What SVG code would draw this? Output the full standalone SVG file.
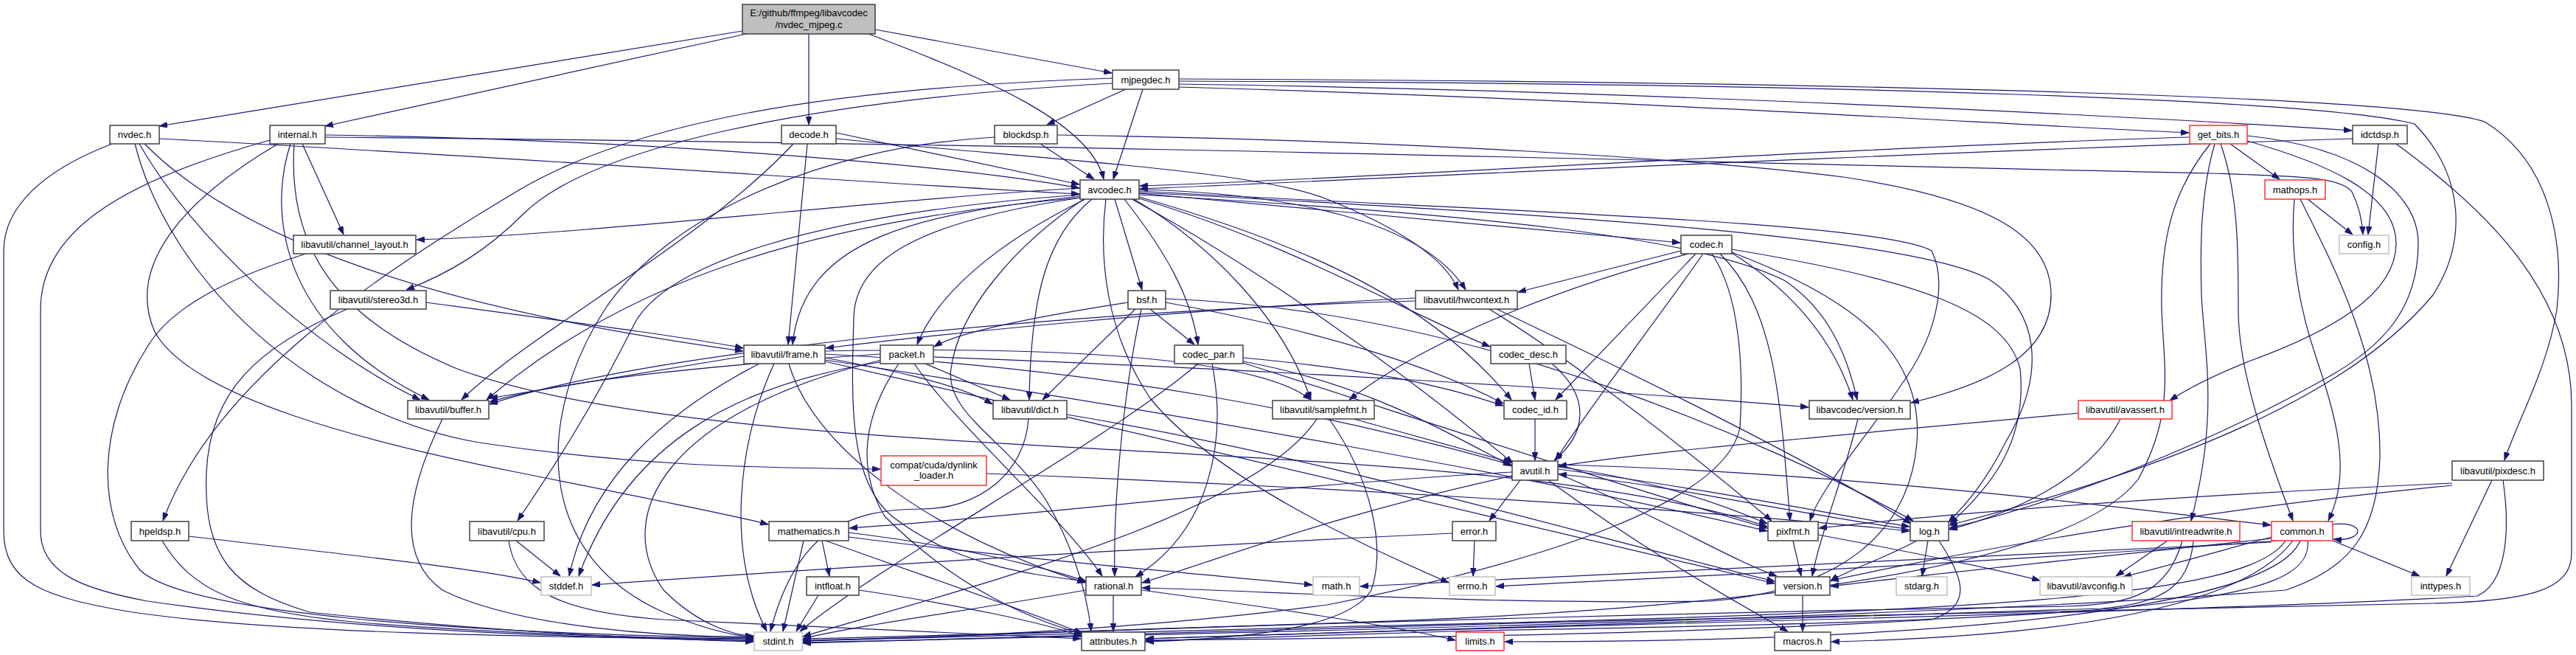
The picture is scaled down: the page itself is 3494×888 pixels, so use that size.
<svg xmlns="http://www.w3.org/2000/svg" width="3494" height="888" viewBox="0 0 3494 888">
<style>
.bg{fill:#ffffff}
.node rect{fill:#ffffff;stroke:#404040;stroke-width:1.5}
.node.red rect{stroke:#ff3030}
.node.grey rect{stroke:#c0c0c0}
.node.root rect{fill:#bfbfbf;stroke:#404040}
.node text{font-family:"Liberation Sans",Arial,sans-serif;font-size:13px;fill:#000000;text-anchor:middle}
.edges path{fill:none;stroke:#191970;stroke-width:1.2;marker-end:url(#ah)}
</style>
<defs>
<marker id="ah" markerWidth="11" markerHeight="8" refX="11" refY="4" orient="auto" markerUnits="userSpaceOnUse" viewBox="0 0 11 8"><path d="M0,0L11,4L0,8z" fill="#191970" stroke="#191970" stroke-width="0.8"/></marker>
</defs>
<rect class="bg" x="0" y="0" width="3494" height="888"/>
<g id="connectors" class="edges">
<path d="M1007,42 L216,171"/>
<path d="M1012,46 L441,171"/>
<path d="M1097,46 L1097,169"/>
<path d="M1178,46 C1350,110 1480,170 1497,243"/>
<path d="M1187,40 L1508,99"/>
<path d="M1527,121 L1420,169"/>
<path d="M1550,121 L1510,243"/>
<path d="M1599,118 C2200,135 2700,168 2969,180"/>
<path d="M1599,114 C2200,122 2900,158 3190,177"/>
<path d="M1599,107 C2300,110 3250,125 3370,165 C3460,220 3478,330 3468,420 C3455,500 3415,570 3397,624"/>
<path d="M1599,110 C2500,113 3150,135 3275,168 C3345,240 3345,330 3300,400 C3200,520 3000,620 2644,712"/>
<path d="M1509,106 C1100,120 850,170 700,260 C500,380 290,520 221,706"/>
<path d="M1509,113 C1100,135 800,200 710,290 C660,340 610,370 551,393"/>
<path d="M216,188 C700,213 1200,250 1464,263"/>
<path d="M152,195 C60,230 5,280 5,340 L5,720 C5,790 60,810 180,830 C400,862 800,864 1022,867"/>
<path d="M189,195 C260,320 420,470 570,542"/>
<path d="M196,195 C330,330 600,420 1008,476"/>
<path d="M183,195 C230,380 420,560 650,600 C850,630 1000,634 1194,636"/>
<path d="M441,183 C900,190 1300,225 1464,255"/>
<path d="M441,186 C1500,195 2500,225 3000,235 C3120,239 3175,240 3190,260 C3200,280 3204,300 3205,318"/>
<path d="M410,195 L466,318"/>
<path d="M366,190 C150,250 55,320 55,420 L55,720 C55,780 120,800 200,815 C500,858 800,864 1022,869"/>
<path d="M377,195 C250,270 170,360 210,450 C260,540 500,600 700,640 C900,680 1000,700 1042,711"/>
<path d="M394,195 C360,300 390,450 582,542"/>
<path d="M399,195 C390,330 450,430 620,500 C1000,640 2000,580 2397,714"/>
<path d="M1076,195 C950,330 720,450 626,542"/>
<path d="M1095,195 L1069,467"/>
<path d="M1134,180 L1464,250"/>
<path d="M1134,188 C1400,215 1700,230 1800,270 C1900,310 1960,350 1978,393"/>
<path d="M1411,195 L1484,243"/>
<path d="M1434,183 C1900,190 2300,215 2500,240 C2700,270 2782,320 2782,400 C2782,480 2700,520 2592,546"/>
<path d="M1349,186 C1100,200 900,300 820,420 C730,560 720,750 900,830 C960,855 1000,862 1022,864"/>
<path d="M2969,186 C2500,200 1800,245 1546,252"/>
<path d="M3025,195 L3092,243"/>
<path d="M3004,195 C2985,260 2984,330 2986,400 C2990,480 3010,560 2972,706"/>
<path d="M3012,195 C3035,260 3036,330 3036,420 C3036,500 3070,600 3110,706"/>
<path d="M2998,195 C2945,260 2930,330 2932,420 C2935,500 2950,560 2900,650 C2800,780 2300,830 1800,845 C1400,858 1200,865 1089,869"/>
<path d="M3048,184 C3200,200 3280,260 3280,330 C3280,420 3230,470 3160,510 C3000,600 2800,680 2644,716"/>
<path d="M3048,191 C3150,220 3250,260 3250,330 C3250,400 3160,450 3050,490 C3000,510 2970,525 2943,543"/>
<path d="M3191,188 C2500,210 1800,246 1546,256"/>
<path d="M3226,195 L3212,318"/>
<path d="M3250,195 C3380,290 3488,400 3488,550 L3488,750 C3488,800 3430,815 3300,818 C2600,830 1800,850 1089,872"/>
<path d="M3112,270 C3105,350 3120,420 3140,480 C3170,570 3190,640 3158,706"/>
<path d="M3120,270 C3160,350 3230,480 3228,620 C3225,720 3190,770 3100,800 C2600,840 1600,860 1089,871"/>
<path d="M3130,270 L3191,318"/>
<path d="M1465,255 C1200,270 800,318 565,325"/>
<path d="M1512,270 L1549,393"/>
<path d="M1545,262 L2279,329"/>
<path d="M1545,257 C1750,262 1930,300 1988,393"/>
<path d="M1466,266 C1250,290 1090,320 1075,467"/>
<path d="M1466,268 C1100,300 850,380 660,542"/>
<path d="M1472,270 C1350,330 1270,400 1244,467"/>
<path d="M1481,270 C1420,320 1398,400 1396,542"/>
<path d="M1525,270 C1580,340 1615,400 1625,467"/>
<path d="M1545,267 C1800,340 1950,420 2050,542"/>
<path d="M1545,269 C1750,330 1900,420 2021,470"/>
<path d="M1538,270 C1640,330 1740,430 1778,542"/>
<path d="M1535,270 C1700,360 1900,500 2052,628"/>
<path d="M1545,261 C2100,290 2600,320 2700,380 C2760,420 2780,500 2720,600 C2690,660 2660,690 2643,708"/>
<path d="M1545,259 C2000,285 2550,300 2620,340 C2640,380 2630,450 2580,520 C2520,610 2470,660 2455,706"/>
<path d="M1500,270 C1490,350 1500,450 1560,540 C1650,650 1850,740 1965,790"/>
<path d="M1466,268 C1250,300 1160,350 1158,430 C1155,540 1150,650 1210,700 C1300,770 1410,780 1473,788"/>
<path d="M1470,270 C1380,330 1300,420 1290,500 C1280,560 1370,600 1420,680 C1460,750 1475,810 1480,856"/>
<path d="M1466,264 C1100,290 900,360 860,440 C800,560 740,650 702,706"/>
<path d="M1545,264 C2000,290 2300,320 2420,380 C2480,420 2505,480 2519,542"/>
<path d="M1530,410 C1400,430 1300,450 1267,470"/>
<path d="M1540,419 L1414,542"/>
<path d="M1560,419 L1620,467"/>
<path d="M1581,410 C1800,450 1950,500 2039,547"/>
<path d="M1581,405 C2000,420 2400,600 2595,706"/>
<path d="M1548,419 C1520,550 1510,700 1512,781"/>
<path d="M2280,340 L2059,396"/>
<path d="M2290,344 C2150,380 1950,450 1830,542"/>
<path d="M2300,344 L2110,542"/>
<path d="M2310,344 C2250,430 2150,560 2110,624"/>
<path d="M2322,344 C2360,400 2365,500 2360,580 C2340,680 2100,760 1800,820 C1500,860 1200,866 1089,868"/>
<path d="M2333,344 C2410,420 2415,550 2428,706"/>
<path d="M2349,343 C2440,400 2490,470 2513,542"/>
<path d="M2349,342 C2500,400 2610,470 2600,600 C2590,720 2500,800 2320,815 C2000,820 1700,800 1549,797"/>
<path d="M2349,338 C2600,380 2720,420 2740,500 C2750,600 2700,660 2645,710"/>
<path d="M2074,493 L2082,542"/>
<path d="M2105,493 C2160,540 2150,590 2108,624"/>
<path d="M2082,568 L2082,624"/>
<path d="M1625,493 C1500,600 1200,760 1085,856"/>
<path d="M1644,493 C1665,600 1640,720 1540,782"/>
<path d="M1686,490 C1850,520 1950,580 2051,632"/>
<path d="M1686,492 C1900,560 2200,660 2397,716"/>
<path d="M1686,485 C1850,500 1950,520 2039,550"/>
<path d="M1255,493 L1370,542"/>
<path d="M1266,484 C1700,500 2200,530 2453,552"/>
<path d="M1240,493 C1300,580 1440,700 1495,781"/>
<path d="M1219,493 C1160,580 1170,650 1200,700 C1300,800 1400,840 1469,860"/>
<path d="M1194,480 C900,500 750,520 664,545"/>
<path d="M1200,490 C1000,520 850,600 785,781"/>
<path d="M1196,488 C900,560 830,700 900,800 C950,850 1000,862 1022,862"/>
<path d="M1009,483 L664,540"/>
<path d="M1119,485 C1200,500 1300,520 1346,548"/>
<path d="M1030,493 C900,560 800,650 772,781"/>
<path d="M1050,493 C1000,600 985,750 1040,856"/>
<path d="M1070,493 C1100,600 1250,720 1472,790"/>
<path d="M1119,476 C1400,470 1700,480 1778,542"/>
<path d="M1119,480 C1500,500 1800,560 2050,630"/>
<path d="M1119,488 C1600,560 2100,650 2397,720"/>
<path d="M1119,490 C1600,600 2200,740 2407,791"/>
<path d="M1920,408 C1500,420 900,470 664,548"/>
<path d="M1920,404 C1600,420 1300,450 1120,472"/>
<path d="M2030,419 C2200,500 2450,620 2592,710"/>
<path d="M2020,419 C2150,500 2300,620 2403,706"/>
<path d="M578,410 C800,440 950,460 1008,472"/>
<path d="M471,419 C350,470 285,530 280,640 C275,760 320,800 420,830 C700,860 900,866 1022,870"/>
<path d="M415,344 C300,380 230,420 200,470 C130,580 130,700 190,773 C250,830 600,858 1022,865"/>
<path d="M600,568 C560,650 530,750 600,800 C700,850 900,864 1022,863"/>
<path d="M1447,562 C1800,620 2200,740 2407,788"/>
<path d="M1395,568 C1390,640 1330,690 1250,690 C1150,690 1080,720 1045,856"/>
<path d="M1836,568 L2050,627"/>
<path d="M1786,568 C1700,700 1300,800 1089,863"/>
<path d="M1803,568 C1860,650 1880,740 1860,800 C1830,850 1700,865 1554,870"/>
<path d="M2520,568 C2500,650 2470,720 2458,781"/>
<path d="M2819,560 C2500,590 2250,610 2114,632"/>
<path d="M2876,568 C2840,640 2750,690 2644,718"/>
<path d="M1338,642 C1800,660 2300,690 2590,720"/>
<path d="M2062,651 L2020,706"/>
<path d="M2051,640 C1700,660 1400,700 1152,716"/>
<path d="M2051,645 C1800,700 1650,760 1549,790"/>
<path d="M2113,642 C2250,700 2350,760 2410,781"/>
<path d="M2100,651 C2250,760 2380,830 2425,856"/>
<path d="M2113,636 C2300,660 2500,700 2590,714"/>
<path d="M2113,633 C2250,650 2350,690 2397,710"/>
<path d="M2113,630 C2500,640 2900,690 3080,712"/>
<path d="M2615,733 L2607,781"/>
<path d="M2600,733 C2550,760 2500,775 2483,788"/>
<path d="M2591,718 C2400,690 2250,655 2114,643"/>
<path d="M2630,733 C2660,780 2680,820 2620,840 C2300,860 1800,866 1554,868"/>
<path d="M2432,733 L2443,781"/>
<path d="M2466,725 C2600,750 2700,770 2767,787"/>
<path d="M2445,807 L2445,856"/>
<path d="M1115,733 L1125,781"/>
<path d="M1090,733 L1062,856"/>
<path d="M1151,728 C1400,760 1650,780 1780,793"/>
<path d="M1151,722 C1300,740 1420,770 1473,788"/>
<path d="M1120,733 C1250,780 1400,830 1468,859"/>
<path d="M1110,807 L1080,856"/>
<path d="M1165,800 C1300,820 1420,845 1467,863"/>
<path d="M1510,807 L1510,856"/>
<path d="M1473,800 C1300,830 1150,850 1089,866"/>
<path d="M1548,800 C1700,820 1900,850 1974,868"/>
<path d="M2000,733 L1998,781"/>
<path d="M1970,723 C1600,740 1200,765 803,793"/>
<path d="M700,733 L760,781"/>
<path d="M690,733 C700,800 760,830 900,840 C1200,855 1350,860 1466,866"/>
<path d="M256,727 C450,750 650,770 733,790"/>
<path d="M220,733 C260,800 320,830 500,845 C700,860 900,866 1022,866"/>
<path d="M2940,733 L2870,781"/>
<path d="M2960,733 C2940,800 2900,820 2800,822 C2000,835 1400,860 1089,866"/>
<path d="M2975,733 C2970,790 2940,818 2850,825 C2200,845 1700,860 1554,866"/>
<path d="M3164,711 C3185,708 3198,714 3198,720 C3198,727 3185,733 3165,731"/>
<path d="M3164,733 L3282,781"/>
<path d="M3081,728 C3000,750 2930,770 2880,782"/>
<path d="M3081,730 C2800,760 2600,780 2483,795"/>
<path d="M3081,735 C2600,760 2100,780 1845,795"/>
<path d="M3090,733 C2600,770 2200,785 2029,795"/>
<path d="M3110,733 C3060,800 2900,860 2484,870"/>
<path d="M3120,733 C3080,830 2600,870 2041,870"/>
<path d="M3100,733 C3050,810 2700,830 1800,850 C1400,860 1200,866 1089,869"/>
<path d="M3130,733 C3140,820 2900,840 2000,855 C1800,860 1650,866 1554,869"/>
<path d="M3380,651 L3318,781"/>
<path d="M3326,655 C3000,670 2700,690 2467,716"/>
<path d="M3326,658 C3000,690 2700,740 2483,787"/>
<path d="M3395,651 C3405,720 3400,790 3360,808 C3000,830 2000,850 1554,866"/>
</g>
<g id="n_root" class="node root"><rect x="1007" y="6" width="180" height="40"/><text x="1097" y="22">E:/github/ffmpeg/libavcodec</text><text x="1097" y="38">/nvdec_mjpeg.c</text></g>
<g id="n_mjpegdec" class="node"><rect x="1509" y="95" width="90" height="26"/><text x="1554" y="112.5">mjpegdec.h</text></g>
<g id="n_nvdec" class="node"><rect x="149" y="170" width="67" height="25"/><text x="182.5" y="187">nvdec.h</text></g>
<g id="n_internal" class="node"><rect x="366" y="170" width="75" height="25"/><text x="403.5" y="187">internal.h</text></g>
<g id="n_decode" class="node"><rect x="1060" y="170" width="74" height="25"/><text x="1097" y="187">decode.h</text></g>
<g id="n_blockdsp" class="node"><rect x="1349" y="170" width="85" height="25"/><text x="1391.5" y="187">blockdsp.h</text></g>
<g id="n_get_bits" class="node red"><rect x="2970" y="170" width="78" height="25"/><text x="3009" y="187">get_bits.h</text></g>
<g id="n_idctdsp" class="node"><rect x="3191" y="170" width="74" height="25"/><text x="3228" y="187">idctdsp.h</text></g>
<g id="n_avcodec" class="node"><rect x="1465" y="244" width="80" height="26"/><text x="1505" y="261.5">avcodec.h</text></g>
<g id="n_mathops" class="node red"><rect x="3072" y="244" width="82" height="26"/><text x="3113" y="261.5">mathops.h</text></g>
<g id="n_channel_layout" class="node"><rect x="398" y="319" width="166" height="25"/><text x="481" y="336">libavutil/channel_layout.h</text></g>
<g id="n_codec" class="node"><rect x="2280" y="319" width="69" height="25"/><text x="2314.5" y="336">codec.h</text></g>
<g id="n_config" class="node grey"><rect x="3173" y="319" width="67" height="25"/><text x="3206.5" y="336">config.h</text></g>
<g id="n_stereo3d" class="node"><rect x="448" y="394" width="130" height="25"/><text x="513" y="411">libavutil/stereo3d.h</text></g>
<g id="n_bsf" class="node"><rect x="1530" y="394" width="51" height="25"/><text x="1555.5" y="411">bsf.h</text></g>
<g id="n_hwcontext" class="node"><rect x="1920" y="394" width="138" height="25"/><text x="1989" y="411">libavutil/hwcontext.h</text></g>
<g id="n_frame" class="node"><rect x="1009" y="468" width="110" height="25"/><text x="1064" y="485">libavutil/frame.h</text></g>
<g id="n_packet" class="node"><rect x="1194" y="468" width="72" height="25"/><text x="1230" y="485">packet.h</text></g>
<g id="n_codec_par" class="node"><rect x="1593" y="468" width="93" height="25"/><text x="1639.5" y="485">codec_par.h</text></g>
<g id="n_codec_desc" class="node"><rect x="2022" y="468" width="102" height="25"/><text x="2073" y="485">codec_desc.h</text></g>
<g id="n_buffer" class="node"><rect x="553" y="543" width="110" height="25"/><text x="608" y="560">libavutil/buffer.h</text></g>
<g id="n_dict" class="node"><rect x="1347" y="543" width="100" height="25"/><text x="1397" y="560">libavutil/dict.h</text></g>
<g id="n_samplefmt" class="node"><rect x="1726" y="543" width="138" height="25"/><text x="1795" y="560">libavutil/samplefmt.h</text></g>
<g id="n_codec_id" class="node"><rect x="2040" y="543" width="85" height="25"/><text x="2082.5" y="560">codec_id.h</text></g>
<g id="n_lavc_version" class="node"><rect x="2454" y="543" width="137" height="25"/><text x="2522.5" y="560">libavcodec/version.h</text></g>
<g id="n_avassert" class="node red"><rect x="2819" y="543" width="127" height="25"/><text x="2882.5" y="560">libavutil/avassert.h</text></g>
<g id="n_compat" class="node red"><rect x="1195" y="618" width="143" height="40"/><text x="1266.5" y="634.5">compat/cuda/dynlink</text><text x="1266.5" y="649">_loader.h</text></g>
<g id="n_avutil" class="node"><rect x="2051" y="625" width="62" height="26"/><text x="2082" y="642.5">avutil.h</text></g>
<g id="n_pixdesc" class="node"><rect x="3326" y="625" width="124" height="26"/><text x="3388" y="642.5">libavutil/pixdesc.h</text></g>
<g id="n_hpeldsp" class="node"><rect x="178" y="707" width="78" height="26"/><text x="217" y="724.5">hpeldsp.h</text></g>
<g id="n_cpu" class="node"><rect x="637" y="707" width="101" height="26"/><text x="687.5" y="724.5">libavutil/cpu.h</text></g>
<g id="n_mathematics" class="node"><rect x="1043" y="707" width="108" height="26"/><text x="1097" y="724.5">mathematics.h</text></g>
<g id="n_error" class="node"><rect x="1970" y="707" width="59" height="26"/><text x="1999.5" y="724.5">error.h</text></g>
<g id="n_pixfmt" class="node"><rect x="2398" y="707" width="68" height="26"/><text x="2432" y="724.5">pixfmt.h</text></g>
<g id="n_log" class="node"><rect x="2591" y="707" width="52" height="26"/><text x="2617" y="724.5">log.h</text></g>
<g id="n_intreadwrite" class="node red"><rect x="2892" y="707" width="146" height="26"/><text x="2965" y="724.5">libavutil/intreadwrite.h</text></g>
<g id="n_common" class="node red"><rect x="3081" y="707" width="83" height="26"/><text x="3122.5" y="724.5">common.h</text></g>
<g id="n_stddef" class="node grey"><rect x="734" y="782" width="68" height="25"/><text x="768" y="799">stddef.h</text></g>
<g id="n_intfloat" class="node"><rect x="1094" y="782" width="71" height="25"/><text x="1129.5" y="799">intfloat.h</text></g>
<g id="n_rational" class="node"><rect x="1473" y="782" width="75" height="25"/><text x="1510.5" y="799">rational.h</text></g>
<g id="n_math" class="node grey"><rect x="1781" y="782" width="63" height="25"/><text x="1812.5" y="799">math.h</text></g>
<g id="n_errno" class="node grey"><rect x="1966" y="782" width="62" height="25"/><text x="1997" y="799">errno.h</text></g>
<g id="n_version" class="node"><rect x="2408" y="782" width="74" height="25"/><text x="2445" y="799">version.h</text></g>
<g id="n_stdarg" class="node grey"><rect x="2572" y="782" width="69" height="25"/><text x="2606.5" y="799">stdarg.h</text></g>
<g id="n_avconfig" class="node grey"><rect x="2767" y="782" width="125" height="25"/><text x="2829.5" y="799">libavutil/avconfig.h</text></g>
<g id="n_inttypes" class="node grey"><rect x="3271" y="782" width="79" height="25"/><text x="3310.5" y="799">inttypes.h</text></g>
<g id="n_stdint" class="node grey"><rect x="1023" y="857" width="65" height="25"/><text x="1055.5" y="874">stdint.h</text></g>
<g id="n_attributes" class="node"><rect x="1467" y="857" width="86" height="25"/><text x="1510" y="874">attributes.h</text></g>
<g id="n_limits" class="node red"><rect x="1975" y="857" width="65" height="25"/><text x="2007.5" y="874">limits.h</text></g>
<g id="n_macros" class="node"><rect x="2407" y="857" width="76" height="25"/><text x="2445" y="874">macros.h</text></g>
</svg>
